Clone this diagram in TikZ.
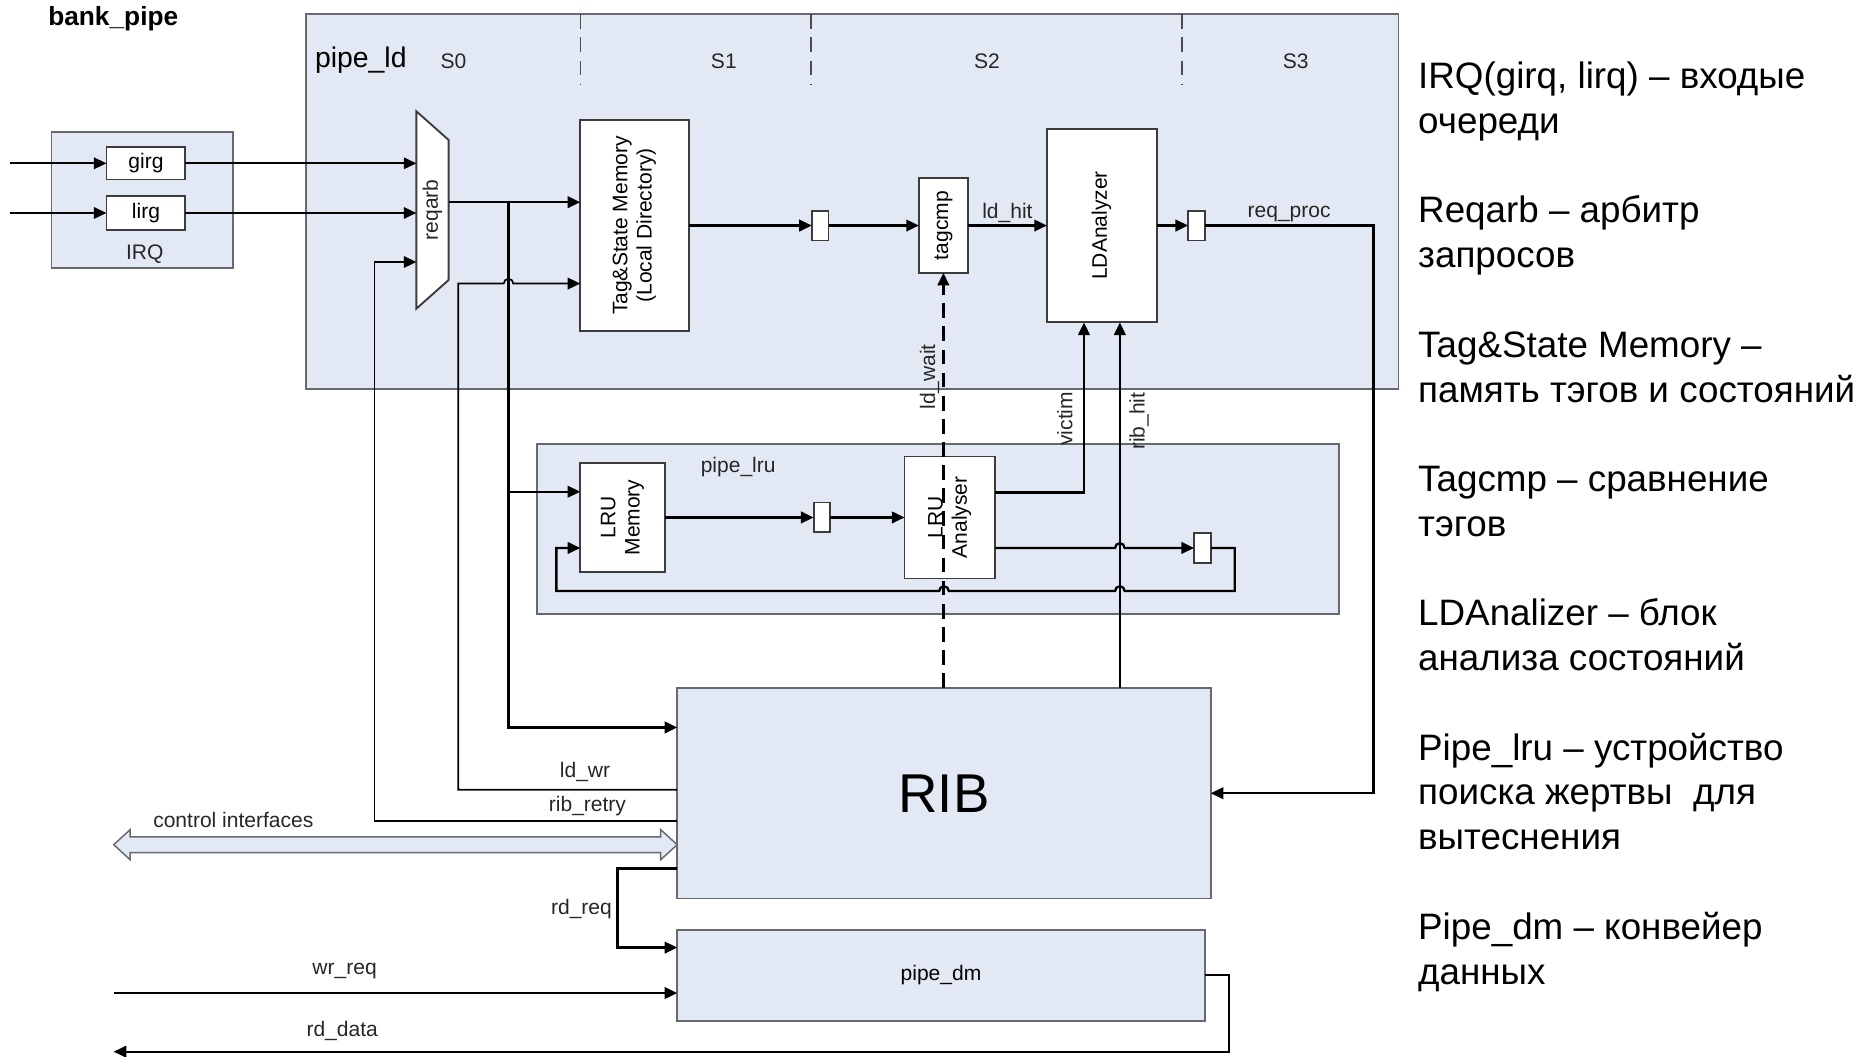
\documentclass[tikz,border=0pt]{standalone}
\usepackage{fontspec}
\setmainfont{Liberation Sans}
\usepackage{graphicx}
\usetikzlibrary{arrows.meta,positioning,shapes.arrows}
\definecolor{pipeblue}{HTML}{E3E9F4}
\definecolor{pipeframe}{HTML}{666A70}
\definecolor{unitline}{HTML}{3C3C3C}
\newcommand{\uptext}[1]{\rotatebox{90}{\begin{tabular}{@{}c@{}}#1\end{tabular}}}
\tikzset{
  area/.style={
    draw=pipeframe,
    fill=pipeblue,
    line width=0.9pt,
    inner sep=0pt,
    outer sep=0pt
  },
  unit/.style={
    draw=unitline,
    fill=white,
    line width=0.9pt,
    inner sep=0pt,
    outer sep=0pt,
    font=\fontsize{10}{11.5}\selectfont
  },
  reg/.style={
    unit,
    minimum width=0.28cm,
    minimum height=0.5cm
  },
  lbl/.style={
    font=\fontsize{10}{12}\selectfont,
    text=black!85,
    inner sep=1pt
  },
  vlbl/.style={
    lbl,
    rotate=90
  },
  sig/.style={
    -{Triangle[length=6pt,width=5.5pt]},
    line width=1.1pt
  },
  thinsig/.style={
    -{Triangle[length=6pt,width=5.5pt]},
    line width=0.8pt
  },
  stage/.style={
    dash pattern=on 7pt off 4pt,
    line width=0.7pt,
    draw=black!70
  },
  legend/.style={
    font=\fontsize{17.5}{21.3}\selectfont,
    align=left,
    inner sep=0pt
  }
}

\begin{document}
\begin{tikzpicture}[x=0.02cm, y=-0.02cm]
\useasboundingbox (0,0) rectangle (1568,883);

\node[font=\bfseries\fontsize{12.5}{15}\selectfont, anchor=west, inner sep=0pt] (title) at (40,16) {bank\_pipe};

\node[area, minimum width=18.26cm, minimum height=6.26cm] (pipeld) at (712.5,168.5) {};
\node[font=\fontsize{13.5}{16}\selectfont, anchor=west, inner sep=0pt] (pipeldname) at (263,50) {pipe\_ld};
\node[lbl] (s0) at (379,51) {S0};
\node[lbl] (s1) at (605,51) {S1};
\node[lbl] (s2) at (825,51) {S2};
\node[lbl] (s3) at (1083,51) {S3};
\draw[stage] (485,12) -- (485,70);
\draw[stage] (678,12) -- (678,70);
\draw[stage] (988,12) -- (988,70);

\node[area, minimum width=13.4cm, minimum height=2.84cm] (pipelru) at (784,442) {};
\node[lbl] (pipelruname) at (617,390) {pipe\_lru};

\node[area, minimum width=8.92cm, minimum height=3.52cm, font=\fontsize{26}{30}\selectfont] (rib) at (789,663) {RIB};
\node[area, minimum width=8.82cm, minimum height=1.52cm, font=\fontsize{10}{12}\selectfont] (pipedm) at (786.5,815) {pipe\_dm};

\node[area, minimum width=3.04cm, minimum height=2.28cm] (irq) at (119,167) {};
\node[lbl] (irqname) at (121,212) {IRQ};
\node[unit, minimum width=1.32cm, minimum height=0.54cm] (girq) at (122,136.5) {girg};
\node[unit, minimum width=1.32cm, minimum height=0.56cm] (lirq) at (122,178) {lirg};
\coordinate (gsrc) at (8,136.5);
\coordinate (lsrc) at (8,178);

% arbiter
\node[inner sep=0pt, outer sep=0pt, minimum width=0.54cm, minimum height=3.3cm] (reqarb) at (361.5,175.5) {};
\draw[unit] (reqarb.north west) -- ([yshift=-0.48cm]reqarb.north east)
  -- ([yshift=0.48cm]reqarb.south east) -- (reqarb.south west) -- cycle;
\node[vlbl] (reqarbname) at (reqarb) {reqarb};

% pipe_ld units
\node[unit, minimum width=1.82cm, minimum height=3.54cm] (tagmem) at (530.5,188.5) {\uptext{Tag\&State Memory\\(Local Directory)}};
\node[reg] (tagreg) at (685.5,188.5) {};
\node[unit, minimum width=0.82cm, minimum height=1.58cm] (tagcmp) at (788.5,188.5) {\uptext{tagcmp}};
\node[unit, minimum width=1.84cm, minimum height=3.24cm] (ldan) at (921,188.5) {\uptext{LDAnalyzer}};
\node[reg] (ldreg) at (1000,188.5) {};

% pipe_lru units
\node[unit, minimum width=1.42cm, minimum height=1.82cm] (lrumem) at (520.5,432.5) {\uptext{LRU\\Memory}};
\node[reg] (lrureg) at (687,432.5) {};
\node[unit, minimum width=1.52cm, minimum height=2.04cm] (lruan) at (794,432.5) {\uptext{LRU\\Analyser}};
\node[reg] (backreg) at (1005,458) {};

% queues into arbiter
\draw[thinsig] (gsrc) -- (girq.west);
\draw[thinsig] (lsrc) -- (lirq.west);
\draw[thinsig] (girq.east) -- (girq.east -| reqarb.west);
\draw[thinsig] (lirq.east) -- (lirq.east -| reqarb.west);

% request fan-out
\coordinate (fork) at (425,169);
\draw[sig] (fork -| reqarb.east) -- (fork -| tagmem.west);
\draw[sig] (fork) |- ([yshift=-0.66cm]rib.north west);
\draw[sig] ([yshift=0.43cm]lrumem.west -| fork) -- ([yshift=0.43cm]lrumem.west);

% RIB feedback
\coordinate (retryup) at (313,219);
\draw[thinsig] ([yshift=-0.46cm]rib.west) -| (retryup) -- (retryup -| reqarb.west);
\coordinate (ldwrup) at (383,237);
\draw[thinsig] ([yshift=0.06cm]rib.west) -| (ldwrup) -- ++(38,0)
  arc[start angle=180, end angle=0, radius=0.08cm] -- (ldwrup -| tagmem.west);
\node[lbl] (ldwrlbl) at (489,645) {ld\_wr};
\node[lbl] (retrylbl) at (491,674) {rib\_retry};

% main pipe
\draw[sig] (tagmem.east) -- (tagreg.west);
\draw[sig] (tagreg.east) -- (tagcmp.west);
\draw[sig] (tagcmp.east) -- node[lbl, above] {ld\_hit} (ldan.west);
\draw[sig] (ldan.east) -- (ldreg.west);
\draw[sig] (ldreg.east) -- node[lbl, above] {req\_proc} ++(141,0) |- (rib.east);

% lru pipe
\draw[sig] (lrumem.east) -- (lrureg.west);
\draw[sig] (lrureg.east) -- (lruan.west);
\draw[sig] ([yshift=-0.51cm]lruan.east) -- ++(100,0)
  arc[start angle=180, end angle=0, radius=0.08cm] -- (backreg.west);
\draw[sig] (backreg.east) -- ++(20,0) -- ++(0,36) -- (940,494)
  arc[start angle=0, end angle=180, radius=0.08cm] -- (793,494)
  arc[start angle=0, end angle=180, radius=0.08cm] -- (465,494)
  |- ([yshift=-0.51cm]lrumem.west);

% into LDAnalyzer and tagcmp
\draw[sig] ([yshift=0.42cm]lruan.east) -| ([xshift=-0.3cm]ldan.south);
\node[vlbl] (victimlbl) at (890,350) {victim};
\draw[sig] ([xshift=0.3cm]ldan.south |- rib.north) -- ([xshift=0.3cm]ldan.south);
\node[vlbl] (ribhitlbl) at (952,352) {rib\_hit};
\draw[sig, dash pattern=on 7pt off 4pt] (tagcmp.south |- rib.north) -- (tagcmp.south);
\node[vlbl] (ldwaitlbl) at (777,315) {ld\_wait};

% outer interfaces
\node[double arrow, draw=pipeframe, fill=pipeblue, line width=0.7pt, minimum height=9.42cm,
  inner xsep=0pt, inner ysep=0.12cm, double arrow head extend=0.12cm,
  double arrow tip angle=85] (ctrl) at (330.5,706) {};
\node[lbl] (ctrllbl) at (195,685) {control interfaces};

\draw[sig] ([yshift=-1.26cm]rib.west) -- ++(-50,0) |- ([yshift=0.46cm]pipedm.west);
\node[lbl] (rdreqlbl) at (486,760) {rd\_req};
\coordinate (wrsrc) at (95,830);
\draw[sig] (wrsrc) -- (wrsrc -| pipedm.west);
\node[lbl] (wrreqlbl) at (288,812) {wr\_req};
\coordinate (rdsink) at (95,879);
\draw[sig] (pipedm.east) -- ++(20,0) |- (rdsink);
\node[lbl] (rddatalbl) at (286,862) {rd\_data};

% legend
\node[legend, anchor=base west] (notes) at (1185,822.5) {
  IRQ(girq, lirq) – входые\\
  очереди\\[21.3pt]
  Reqarb – арбитр\\
  запросов\\[21.3pt]
  Tag\&State Memory –\\
  память тэгов и состояний\\[21.3pt]
  Tagcmp – сравнение\\
  тэгов\\[21.3pt]
  LDAnalizer – блок\\
  анализа состояний\\[21.3pt]
  Pipe\_lru – устройство\\
  поиска жертвы\ \ для\\
  вытеснения\\[21.3pt]
  Pipe\_dm – конвейер\\
  данных
};

\end{tikzpicture}
\end{document}
